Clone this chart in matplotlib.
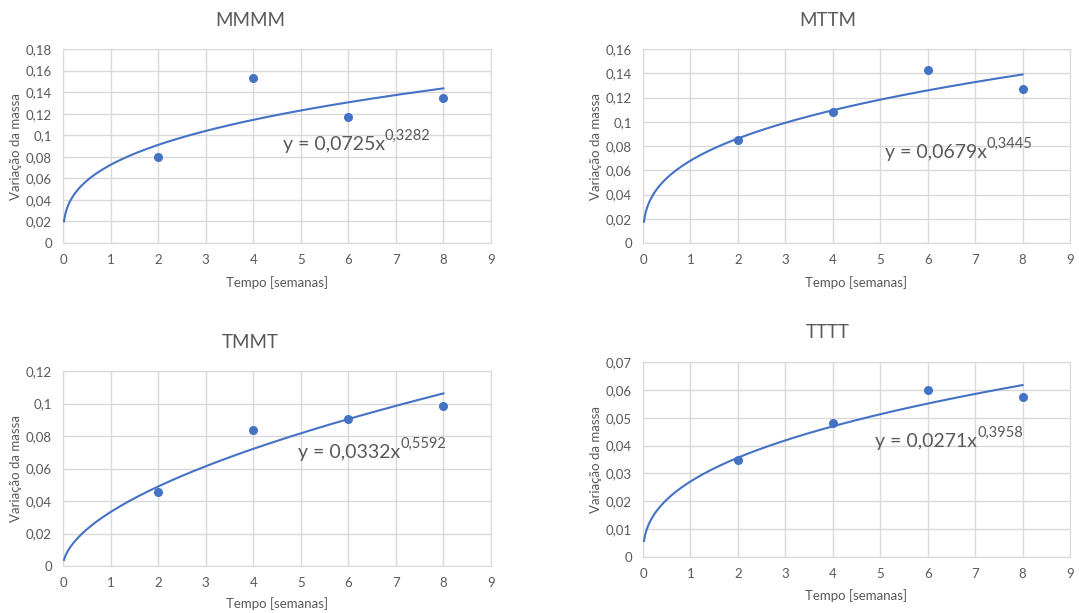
import matplotlib
matplotlib.use('Agg')
import matplotlib.pyplot as plt
import numpy as np
from matplotlib.ticker import FuncFormatter, MultipleLocator

plt.rcParams['font.family'] = ['Lato', 'DejaVu Sans']

semanas = [2, 4, 6, 8]

titles = ['MMMM', 'MTTM', 'TMMT', 'TTTT']
mmmm = [0.080, 0.153, 0.117, 0.135]
mttm = [0.085, 0.108, 0.143, 0.127]
tmmt = [0.0455, 0.084, 0.0905, 0.0985]
tttt = [0.0348, 0.048, 0.0598, 0.0573]

# trendline coefficients (y = a * x^b), as printed on the chart
coef_a = [0.0725, 0.0679, 0.0332, 0.0271]
coef_b = [0.3282, 0.3445, 0.5592, 0.3958]
eq_a = ['0,0725', '0,0679', '0,0332', '0,0271']
eq_b = ['0,3282', '0,3445', '0,5592', '0,3958']

ymax = [0.18, 0.16, 0.12, 0.07]
ystep = [0.02, 0.02, 0.02, 0.01]

blue = '#4472C4'
grey_txt = '#595959'
grid_c = '#D9D9D9'

W, H = 1079, 613
fig = plt.figure(figsize=(W / 100, H / 100), dpi=100)

# pixel boxes: left, right, top, bottom
boxes = [(63, 491, 49, 243), (643, 1070, 49, 243),
         (63, 491, 371, 566), (643, 1070, 362, 557)]
title_pos = [(250, 20), (828, 20), (250, 342), (828, 333)]
eq_pos = [(4.62, 0.0863), (5.1, 0.070), (4.94, 0.0665), (4.89, 0.0395)]
xlab_y = [-0.17, -0.17, -0.16, -0.165]

series = [mmmm, mttm, tmmt, tttt]


def fmt(v, pos):
    s = ('%.2f' % v).rstrip('0').rstrip('.')
    return s.replace('.', ',')


for i in range(4):
    l, r, t, b = boxes[i]
    ax = fig.add_axes([l / W, 1 - b / H, (r - l) / W, (b - t) / H])
    ax.set_xlim(0, 9)
    ax.set_ylim(0, ymax[i])
    ax.xaxis.set_major_locator(MultipleLocator(1))
    ax.yaxis.set_major_locator(MultipleLocator(ystep[i]))
    ax.yaxis.set_major_formatter(FuncFormatter(fmt))
    ax.grid(True, color=grid_c, lw=1)
    ax.set_axisbelow(True)
    for s in ax.spines.values():
        s.set_color(grid_c)
    ax.tick_params(length=0, labelsize=9.5, colors=grey_txt)
    ax.tick_params(axis='y', pad=8)
    ax.tick_params(axis='x', pad=8)

    xs = np.linspace(0.02, 8, 300)
    ax.plot(xs, coef_a[i] * xs ** coef_b[i], color=blue, lw=1.5, zorder=3)
    ax.plot(semanas, series[i], 'o', color=blue, ms=5.5, zorder=4)

    ax.set_xlabel('Tempo [semanas]', fontsize=9.5, color=grey_txt)
    ax.set_ylabel('Variação da massa', fontsize=9.5, color=grey_txt)
    ax.xaxis.set_label_coords(0.5, xlab_y[i])
    ax.yaxis.set_label_coords(-0.096, 0.5)

    ex, ey = eq_pos[i]
    txt = ax.text(ex, ey, 'y = ' + eq_a[i] + 'x', fontsize=14,
                  color=grey_txt, va='baseline', ha='left', zorder=5)
    ax.annotate(eq_b[i], xy=(1, 0.62), xycoords=txt, fontsize=10.5,
                color=grey_txt, va='bottom', ha='left', zorder=5)

    tx, ty = title_pos[i]
    fig.text(tx / W, 1 - ty / H, titles[i], fontsize=13.5, color=grey_txt,
             ha='center', va='center')

fig.savefig('out.png', dpi=100)
